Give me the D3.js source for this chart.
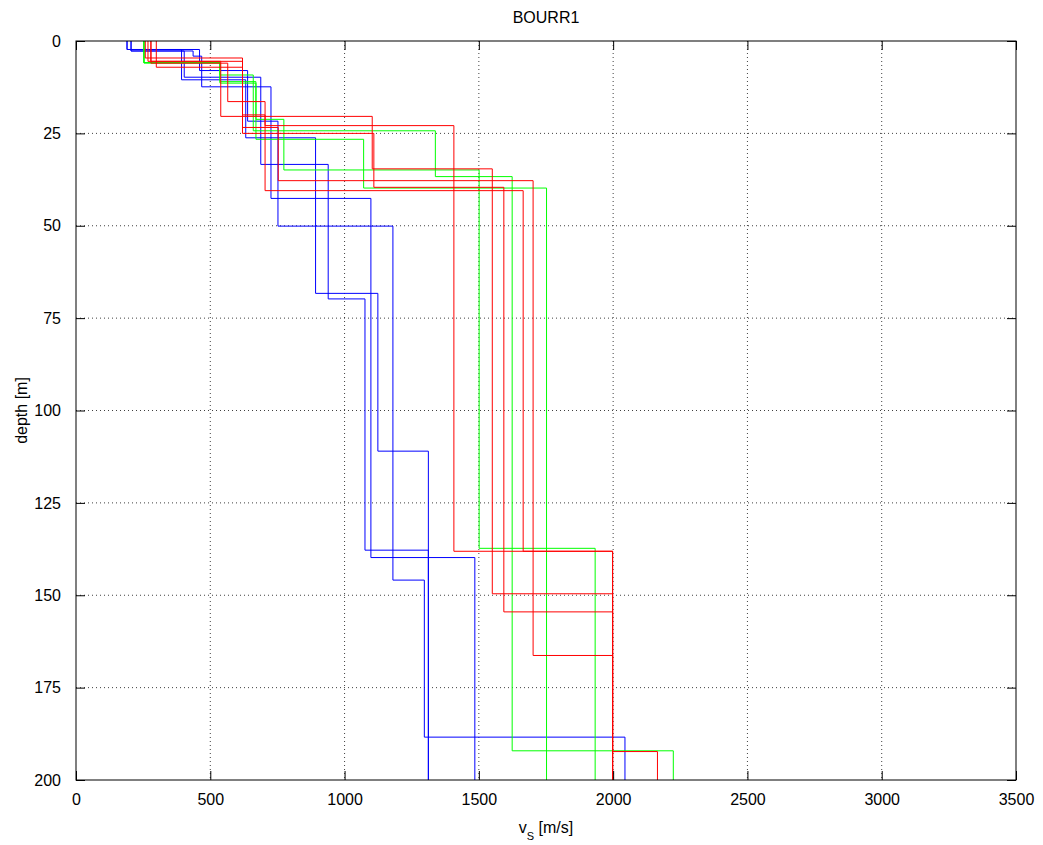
<!DOCTYPE html>
<html>
<head>
<meta charset="utf-8">
<script src="https://cdn.jsdelivr.net/npm/d3@7"></script>
<style>
  body { margin: 0; background: #fff; }
  text { font-family: "Liberation Sans", Arial, sans-serif; }
</style>
</head>
<body>
<div id="chart"></div>
<script>
// tick values
const xTicks = [0, 500, 1000, 1500, 2000, 2500, 3000, 3500]
const yTicks = [0, 25, 50, 75, 100, 125, 150, 175, 200]

// velocity models: layer velocities (m/s) and layer bottom depths (m), last layer is half-space
const blue1Vs = [190, 393, 632, 892, 1124, 1312]
const blue1Bottom = [2.3, 10.5, 26.2, 68.3, 111]
const blue2Vs = [205, 403, 688, 939, 1076, 1312]
const blue2Bottom = [2.7, 9.8, 33.4, 69.8, 137.8]
const blue3Vs = [205, 436, 468, 726, 1098, 1485]
const blue3Bottom = [2.7, 4.1, 12.4, 42.6, 139.8]
const blue4Vs = [190, 460, 639, 752, 1180, 1297, 2044]
const blue4Bottom = [2.3, 8, 21.7, 50.1, 145.9, 188.4]

const red1Vs = [258, 620, 704, 1407, 1998]
const red1Bottom = [4.6, 20, 22.9, 138.1]
const red2Vs = [279, 539, 1103, 1550, 1998]
const red2Bottom = [5.5, 20.4, 34.6, 149.6]
const red3Vs = [268, 620, 1109, 1593, 1998]
const red3Bottom = [5.5, 25.0, 39.6, 154.5]
const red4Vs = [279, 565, 704, 1665, 1998]
const red4Bottom = [6.0, 16.4, 40.5, 138.1]
const red5Vs = [299, 620, 753, 1702, 1998, 2165]
const red5Bottom = [7.1, 23.4, 37.8, 166.3, 192.3]

const green1Vs = [253, 536, 670, 774, 1501, 1933]
const green1Bottom = [5.9, 11.4, 21.2, 34.9, 137.3]
const green2Vs = [253, 536, 660, 1338, 1624, 2224]
const green2Bottom = [5.9, 9.2, 24.3, 36.7, 192.1]
const green3Vs = [253, 536, 670, 1071, 1752]
const green3Bottom = [5.9, 11.0, 26.6, 39.8]

const maxDepth = 200

// dimensions
const w = 1043
const h = 845
const pleft = 76
const pright = 1016
const ptop = 41
const pbtm = 780

const svg = d3.select('#chart')
    .append('svg')
    .attr('width', w)
    .attr('height', h)

const xScale = d3.scaleLinear().domain([0, 3500]).range([pleft, pright])
const yScale = d3.scaleLinear().domain([0, maxDepth]).range([ptop, pbtm])

// grid
svg.append('g')
    .selectAll('line')
    .data(xTicks.slice(1, -1))
    .enter()
    .append('line')
    .attr('x1', d => xScale(d)).attr('x2', d => xScale(d))
    .attr('y1', ptop).attr('y2', pbtm)
    .attr('stroke', '#000')
    .attr('stroke-opacity', 0.75)
    .attr('stroke-dasharray', '1,3')

svg.append('g')
    .selectAll('line')
    .data(yTicks.slice(1, -1))
    .enter()
    .append('line')
    .attr('y1', d => yScale(d)).attr('y2', d => yScale(d))
    .attr('x1', pleft).attr('x2', pright)
    .attr('stroke', '#000')
    .attr('stroke-opacity', 0.75)
    .attr('stroke-dasharray', '1,3')

// build step profile points
const stepPoints = (vs, btm) => {
    const pts = []
    let d0 = 0
    vs.forEach((v, i) => {
        const d1 = i < btm.length ? btm[i] : maxDepth
        pts.push([v, d0], [v, d1])
        d0 = d1
    })
    return pts
}

const models = [
    [blue1Vs, blue1Bottom, '#0000ff'],
    [blue2Vs, blue2Bottom, '#0000ff'],
    [blue3Vs, blue3Bottom, '#0000ff'],
    [blue4Vs, blue4Bottom, '#0000ff'],
    [green1Vs, green1Bottom, '#00ff00'],
    [green2Vs, green2Bottom, '#00ff00'],
    [green3Vs, green3Bottom, '#00ff00'],
    [red1Vs, red1Bottom, '#ff0000'],
    [red2Vs, red2Bottom, '#ff0000'],
    [red3Vs, red3Bottom, '#ff0000'],
    [red4Vs, red4Bottom, '#ff0000'],
    [red5Vs, red5Bottom, '#ff0000']
]

const line = d3.line()
    .x(p => xScale(p[0]))
    .y(p => yScale(p[1]))

svg.append('g')
    .selectAll('path')
    .data(models)
    .enter()
    .append('path')
    .attr('d', m => line(stepPoints(m[0], m[1])))
    .attr('fill', 'none')
    .attr('stroke', m => m[2])
    .attr('stroke-width', 1)

// axes (ticks inside, MATLAB style)
const tickLen = 9
const fmt = d3.format('d')
const xAxisB = d3.axisBottom(xScale).tickValues(xTicks).tickFormat(fmt).tickSizeInner(-tickLen).tickSizeOuter(0).tickPadding(14)
const xAxisT = d3.axisTop(xScale).tickValues(xTicks).tickSizeInner(-tickLen).tickSizeOuter(0).tickFormat('')
const yAxisL = d3.axisLeft(yScale).tickValues(yTicks).tickFormat(fmt).tickSizeInner(-tickLen).tickSizeOuter(0).tickPadding(15)
const yAxisR = d3.axisRight(yScale).tickValues(yTicks).tickSizeInner(-tickLen).tickSizeOuter(0).tickFormat('')

const styleAxis = g => {
    g.select('.domain').remove()
    g.selectAll('line').attr('stroke', '#000')
    g.selectAll('text')
        .attr('fill', '#000')
        .style('font-size', '16px')
        .style('font-family', '"Liberation Sans", Arial, sans-serif')
}

svg.append('g').attr('transform', `translate(0,${pbtm})`).call(xAxisB).call(styleAxis)
svg.append('g').attr('transform', `translate(0,${ptop})`).call(xAxisT).call(styleAxis)
svg.append('g').attr('transform', `translate(${pleft},0)`).call(yAxisL).call(styleAxis)
svg.append('g').attr('transform', `translate(${pright},0)`).call(yAxisR).call(styleAxis)

// box
svg.append('rect')
    .attr('x', pleft).attr('y', ptop)
    .attr('width', pright - pleft).attr('height', pbtm - ptop)
    .attr('fill', 'none')
    .attr('stroke', '#000')
    .attr('stroke-width', 1)

// title
svg.append('text')
    .attr('x', (pleft + pright) / 2)
    .attr('y', 23)
    .attr('text-anchor', 'middle')
    .style('font-size', '16px')
    .text('BOURR1')

// x label with subscript
const xl = svg.append('text')
    .attr('x', (pleft + pright) / 2)
    .attr('y', 833)
    .attr('text-anchor', 'middle')
    .style('font-size', '16px')
xl.append('tspan').text('v')
xl.append('tspan').attr('dy', 7).style('font-size', '11px').text('S')
xl.append('tspan').attr('dy', -7).text(' [m/s]')

// y label
svg.append('text')
    .attr('transform', `translate(27,${(ptop + pbtm) / 2}) rotate(-90)`)
    .attr('text-anchor', 'middle')
    .style('font-size', '16px')
    .text('depth [m]')
</script>
</body>
</html>
